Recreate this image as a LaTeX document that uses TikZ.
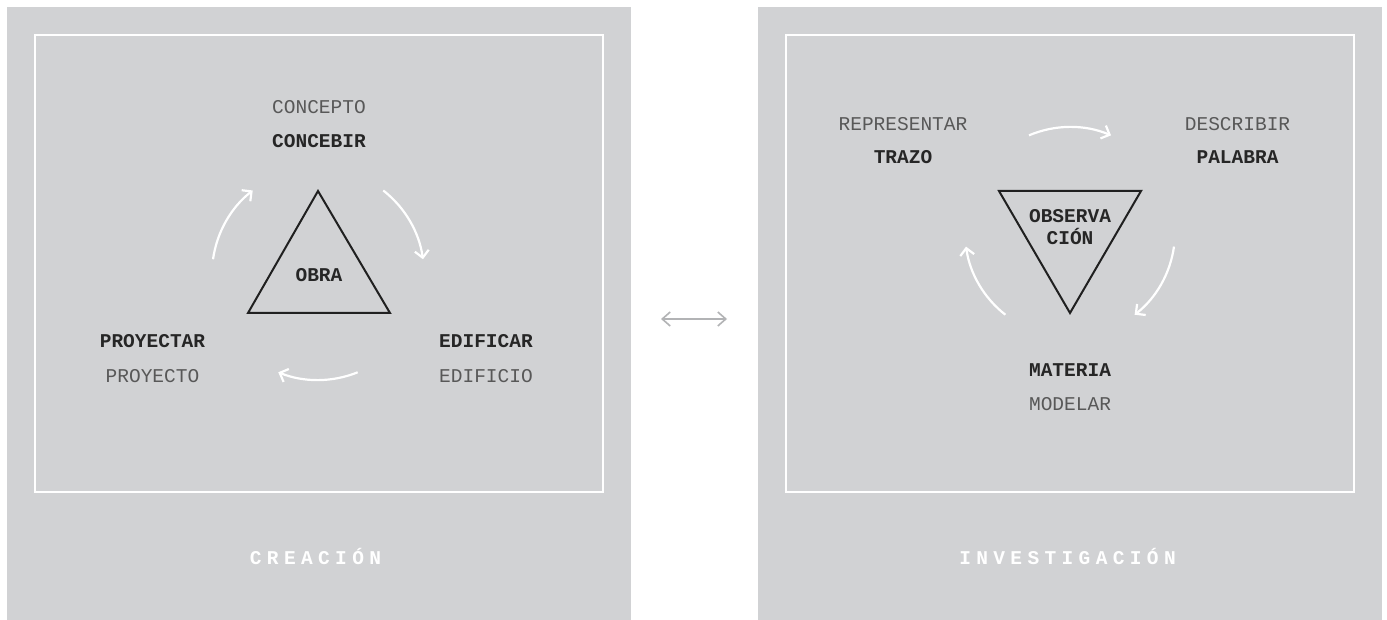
\documentclass[tikz,border=0pt]{standalone}
\usepackage{fontspec}
\setmonofont{Liberation Mono}
\newfontfamily\spacedfont{Liberation Mono}[LetterSpace=27.5]
\usetikzlibrary{arrows.meta}
\definecolor{panelgray}{RGB}{209,210,212}
\definecolor{plaintext}{RGB}{88,88,88}
\definecolor{boldtext}{RGB}{38,38,38}
\definecolor{linedark}{RGB}{32,32,32}
\definecolor{midarrow}{RGB}{178,179,181}
\tikzset{
  panel/.style={fill=panelgray, draw=none, inner sep=0pt, minimum width=624pt, minimum height=613pt},
  frame/.style={draw=white, line width=2pt},
  plainlbl/.style={font=\ttfamily\fontsize{19.5}{22}\selectfont, text=plaintext, inner sep=0pt, anchor=base},
  boldlbl/.style={font=\ttfamily\bfseries\fontsize{19.5}{22}\selectfont, text=boldtext, inner sep=0pt, anchor=base},
  titlelbl/.style={font=\spacedfont\bfseries\fontsize{19.5}{22}\selectfont, text=white, inner sep=0pt, anchor=base},
  tri/.style={draw=linedark, line width=2pt, line join=miter},
  cyc/.style={draw=white, line width=2.2pt, -{Straight Barb[length=7pt,width=14pt]}},
  linkarrow/.style={draw=midarrow, line width=1.6pt, {Straight Barb[length=8pt,width=14pt]}-{Straight Barb[length=8pt,width=14pt]}}
}
\begin{document}
\begin{tikzpicture}[x=1pt,y=1pt]
\useasboundingbox (0,0) rectangle (1387,-620);
\fill[white] (0,0) rectangle (1387,-620);
% panels
\node[panel] (creacion) at (319,-313.5) {};
\node[panel] (investigacion) at (1070,-313.5) {};
\draw[frame] (35,-35) rectangle (603,-492);
\draw[frame] (786,-35) rectangle (1354,-492);
% link arrow between panels
\coordinate (linkL) at (661,-319);
\coordinate (linkR) at (727,-319);
\draw[linkarrow] (linkL) -- (linkR);
% titles
\node[titlelbl] (tcrea) at (315.5,-564) {CREACIÓN};
\node[titlelbl] (tinv) at (1067.5,-564) {INVESTIGACIÓN};
% ---------- left panel ----------
\draw[tri] (318,-191) -- (248,-313) -- (390,-313) -- cycle;
\node[boldlbl] (obra) at (319,-282) {OBRA};
\node[plainlbl] (concepto) at (319,-114) {CONCEPTO};
\node[boldlbl] (concebir) at (319,-148) {CONCEBIR};
\node[boldlbl] (proyectar) at (152.5,-348) {PROYECTAR};
\node[plainlbl] (proyecto) at (152.5,-382) {PROYECTO};
\node[boldlbl] (edificar) at (486,-348) {EDIFICAR};
\node[plainlbl] (edificio) at (486,-382) {EDIFICIO};
\coordinate (lc) at (318,-274);
\draw[cyc] ([shift={(172:106)}]lc) arc[start angle=172, end angle=128, radius=106];
\draw[cyc] ([shift={(52:106)}]lc) arc[start angle=52, end angle=8, radius=106];
\draw[cyc] ([shift={(-68:106)}]lc) arc[start angle=-68, end angle=-112, radius=106];
% ---------- right panel ----------
\draw[tri] (999,-191) -- (1141,-191) -- (1070,-313) -- cycle;
\node[boldlbl] (obs1) at (1070,-223) {OBSERVA};
\node[boldlbl] (obs2) at (1070,-245) {CIÓN};
\node[plainlbl] (representar) at (903,-131) {REPRESENTAR};
\node[boldlbl] (trazo) at (903,-164) {TRAZO};
\node[plainlbl] (describir) at (1237.5,-131) {DESCRIBIR};
\node[boldlbl] (palabra) at (1237.5,-164) {PALABRA};
\node[boldlbl] (materia) at (1070,-377) {MATERIA};
\node[plainlbl] (modelar) at (1070,-410) {MODELAR};
\coordinate (rc) at (1070,-232);
\draw[cyc] ([shift={(113:105)}]rc) arc[start angle=113, end angle=67, radius=105];
\draw[cyc] ([shift={(-8:105)}]rc) arc[start angle=-8, end angle=-52, radius=105];
\draw[cyc] ([shift={(232:105)}]rc) arc[start angle=232, end angle=188, radius=105];
\end{tikzpicture}
\end{document}
